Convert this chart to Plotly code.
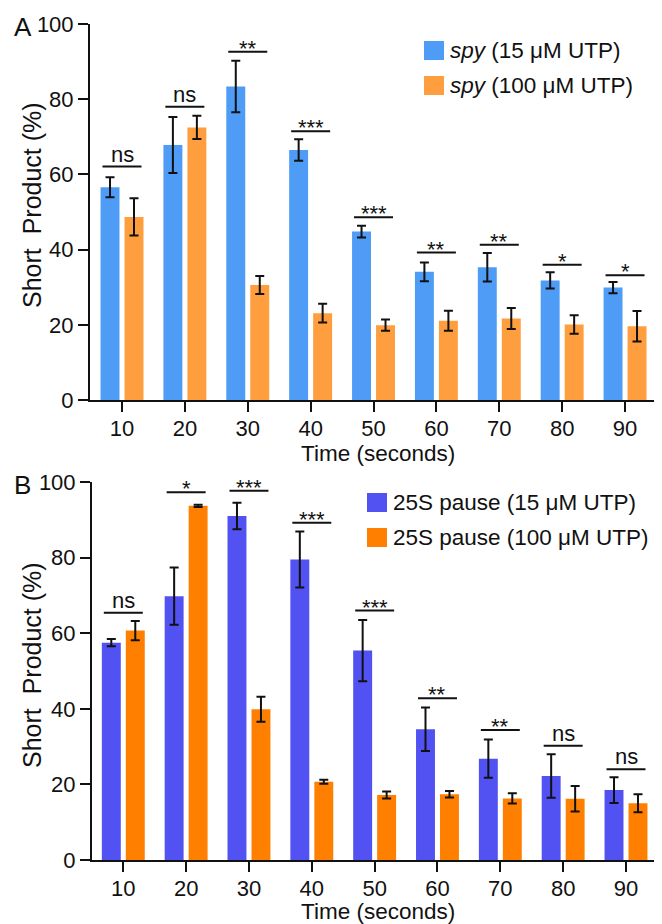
import plotly.graph_objects as go

# page body has an 8px margin; figure is sized to fit the 662x924 window
OFF = 8
W, H = 662 - OFF, 924 - OFF

time_s = [10, 20, 30, 40, 50, 60, 70, 80, 90]

# Panel A: spy
a_low_mean = [56.6, 67.8, 83.4, 66.5, 44.8, 34.1, 35.3, 31.8, 29.9]
a_low_err = [2.65, 7.45, 6.85, 2.85, 1.55, 2.5, 3.8, 2.15, 1.5]
a_high_mean = [48.7, 72.5, 30.6, 23.1, 19.9, 21.1, 21.7, 20.1, 19.6]
a_high_err = [4.95, 3.1, 2.4, 2.5, 1.5, 2.65, 2.8, 2.45, 4.05]
a_sig_y = [62.1, 78.0, 92.6, 71.5, 48.6, 39.2, 41.3, 36.0, 33.2]
a_sig_lbl = ["ns", "ns", "**", "***", "***", "**", "**", "*", "*"]

# Panel B: 25S pause
b_low_mean = [57.5, 69.8, 91.0, 79.5, 55.4, 34.6, 26.8, 22.2, 18.5]
b_low_err = [0.95, 7.55, 3.5, 7.4, 8.1, 5.75, 5.05, 5.75, 3.4]
b_high_mean = [60.7, 93.7, 39.9, 20.7, 17.2, 17.4, 16.3, 16.2, 15.0]
b_high_err = [2.55, 0.3, 3.3, 0.5, 0.9, 0.85, 1.35, 3.35, 2.4]
b_sig_y = [65.4, 97.3, 97.7, 89.2, 66.0, 42.8, 34.4, 30.2, 24.0]
b_sig_lbl = ["ns", "*", "***", "***", "***", "**", "**", "ns", "ns"]

y_ticks = [0, 20, 40, 60, 80, 100]

legend_a = ["<i>spy</i> (15 μM UTP)", "<i>spy</i> (100 μM UTP)"]
legend_b = ["25S pause (15 μM UTP)", "25S pause (100 μM UTP)"]

col_a = ["#4E9CF6", "#FF9E3F"]
col_b = ["#5252F2", "#FF8000"]

FONT = "Liberation Sans, Arial, Helvetica, sans-serif"
FS = 22

def px(x):
    return (x - OFF) / W

def py(y):
    return 1 - (y - OFF) / H

fig = go.Figure()

def add_panel(xa, ya, lows, lerr, highs, herr, cols, names):
    for mean, err, c, n in [(lows, lerr, cols[0], names[0]), (highs, herr, cols[1], names[1])]:
        fig.add_trace(go.Bar(
            x=time_s, y=mean, name=n, marker=dict(color=c, line=dict(width=0)),
            error_y=dict(type="data", array=err, visible=True, color="#111111",
                         thickness=2, width=4.5),
            xaxis=xa, yaxis=ya, showlegend=False,
        ))

add_panel("x", "y", a_low_mean, a_low_err, a_high_mean, a_high_err, col_a, legend_a)
add_panel("x2", "y2", b_low_mean, b_low_err, b_high_mean, b_high_err, col_b, legend_b)

# significance bars
half = 3.1
def add_sig(xa, ya, ys, lbls):
    xs, yy = [], []
    for t, y in zip(time_s, ys):
        xs += [t - half, t + half, None]
        yy += [y, y, None]
    fig.add_trace(go.Scatter(x=xs, y=yy, mode="lines", line=dict(color="#111111", width=2),
                             xaxis=xa, yaxis=ya, showlegend=False, hoverinfo="skip",
                             cliponaxis=False))
    for t, y, l in zip(time_s, ys, lbls):
        star = "*" in l
        fig.add_annotation(x=t, y=y, xref=xa, yref=ya, text=l,
                           showarrow=False, yanchor="bottom",
                           yshift=-11 if star else -2,
                           font=dict(family=FONT, size=FS, color="#111111"))

add_sig("x", "y", a_sig_y, a_sig_lbl)
add_sig("x2", "y2", b_sig_y, b_sig_lbl)

axis_common = dict(
    showline=True, linewidth=2, linecolor="#111111",
    ticks="outside", ticklen=10, tickwidth=2, tickcolor="#111111",
    showgrid=False, zeroline=False, automargin=False,
    tickfont=dict(family=FONT, size=FS, color="#111111"),
)

fig.update_layout(
    template="none",
    width=W, height=H,
    margin=dict(l=0, r=0, t=0, b=0, pad=0, autoexpand=False),
    paper_bgcolor="white", plot_bgcolor="white",
    showlegend=False,
    barmode="group", bargap=0.237, bargroupgap=0.21,
    font=dict(family=FONT, size=FS, color="#111111"),
    xaxis=dict(domain=[px(90), px(660)], range=[4.91, 95.56], tickvals=time_s,
               anchor="y", ticklabelstandoff=-2, **axis_common),
    yaxis=dict(domain=[py(400), py(24)], range=[0, 100], tickvals=y_ticks,
               anchor="x", **axis_common),
    xaxis2=dict(domain=[px(92), px(661)], range=[5.02, 95.57], tickvals=time_s,
                anchor="y2", ticklabelstandoff=-2, **axis_common),
    yaxis2=dict(domain=[py(860), py(482)], range=[0, 100], tickvals=y_ticks,
                anchor="x2", **axis_common),
)

def text_ann(x, y, text, size=FS, angle=0, xanchor="center", yanchor="middle"):
    fig.add_annotation(x=px(x), y=py(y), xref="paper", yref="paper", text=text,
                       showarrow=False, textangle=angle, xanchor=xanchor, yanchor=yanchor,
                       borderpad=0,
                       font=dict(family=FONT, size=size, color="#111111"))

# axis titles
YT = "Short\u00a0 Product (%)"
text_ann(32, 205, YT, size=25, angle=-90)
text_ann(378, 453, "Time (seconds)", size=22.5)
text_ann(32, 665, YT, size=25, angle=-90)
text_ann(378, 911, "Time (seconds)", size=22.5)

# panel labels
text_ann(23, 27, "A", size=26)
text_ann(22, 485, "B", size=26)

# custom legends
def legend(x0, rows, labels, cols, tx):
    for (y0, y1), lab, c in zip(rows, labels, cols):
        fig.add_shape(type="rect", xref="paper", yref="paper",
                      x0=px(x0), x1=px(x0 + 20), y0=py(y1), y1=py(y0),
                      fillcolor=c, line=dict(width=0))
        text_ann(tx, (y0 + y1) / 2, lab, size=22.5, xanchor="left")

legend(424, [(41, 60), (76, 95)], legend_a, col_a, 449)
legend(367, [(493, 512), (528, 547)], legend_b, col_b, 392)

fig.write_html("out.html")
